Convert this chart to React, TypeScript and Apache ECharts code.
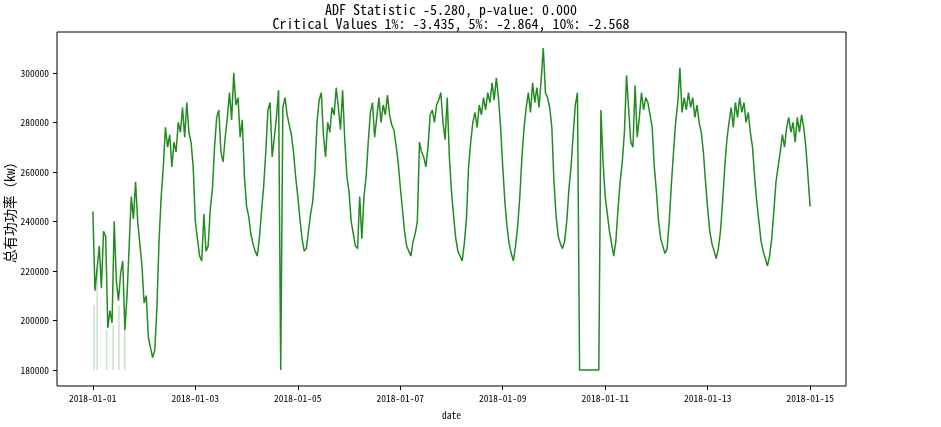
import React, { useEffect, useRef } from "react";
import * as echarts from "echarts";

// ---- data (hourly readings, kW) ----
const START = Date.UTC(2018, 0, 1);
const HOUR = 3600 * 1000;
const DAY = 24 * HOUR;

const jan01 = [244000, 212000, 221000, 230000, 213000, 236000, 234000, 197000, 204000, 199000, 240000, 216000, 208000, 219000, 224000, 196000, 210000, 230000, 250000, 241000, 256000, 240000, 231000, 222000];
const jan02 = [207000, 210000, 193000, 189000, 185000, 188000, 205000, 232000, 250000, 262000, 278000, 270000, 275000, 262000, 272000, 268000, 280000, 276000, 286000, 274000, 288000, 276000, 272000, 262000];
const jan03 = [240000, 233000, 226000, 224000, 243000, 228000, 230000, 245000, 253000, 270000, 282000, 285000, 268000, 264000, 274000, 282000, 292000, 281000, 300000, 287000, 290000, 274000, 281000, 258000];
const jan04 = [246000, 242000, 235000, 231000, 228000, 226000, 233000, 244000, 254000, 268000, 285000, 288000, 266000, 274000, 282000, 293000, 180000, 286000, 290000, 283000, 279000, 275000, 268000, 258000];
const jan05 = [250000, 241000, 233000, 228000, 229000, 236000, 243000, 248000, 260000, 280000, 289000, 292000, 275000, 266000, 280000, 276000, 286000, 283000, 294000, 286000, 277000, 293000, 273000, 258000];
const jan06 = [252000, 240000, 235000, 230000, 229000, 250000, 233000, 250000, 258000, 272000, 284000, 288000, 274000, 282000, 290000, 280000, 287000, 283000, 291000, 283000, 279000, 277000, 271000, 264000];
const jan07 = [254000, 245000, 236000, 230000, 228000, 226000, 232000, 235000, 240000, 272000, 268000, 266000, 262000, 270000, 283000, 285000, 280000, 287000, 289000, 292000, 280000, 273000, 290000, 266000];
const jan08 = [252000, 242000, 233000, 228000, 226000, 224000, 231000, 241000, 262000, 272000, 280000, 284000, 278000, 287000, 283000, 290000, 285000, 292000, 288000, 296000, 289000, 298000, 290000, 278000];
const jan09 = [262000, 248000, 238000, 231000, 227000, 224000, 230000, 238000, 250000, 266000, 278000, 286000, 292000, 284000, 296000, 288000, 294000, 286000, 297000, 310000, 292000, 290000, 286000, 278000];
const jan10 = [256000, 242000, 234000, 231000, 229000, 232000, 240000, 253000, 262000, 275000, 287000, 292000, 180000, 180000, 180000, 180000, 180000, 180000, 180000, 180000, 180000, 180000, 285000, 264000];
const jan11 = [250000, 243000, 236000, 231000, 226000, 232000, 245000, 256000, 264000, 276000, 299000, 285000, 272000, 270000, 295000, 274000, 282000, 292000, 285000, 290000, 288000, 283000, 278000, 262000];
const jan12 = [252000, 240000, 233000, 230000, 227000, 229000, 240000, 255000, 268000, 280000, 288000, 302000, 284000, 290000, 285000, 292000, 286000, 290000, 282000, 287000, 280000, 276000, 268000, 256000];
const jan13 = [245000, 236000, 231000, 228000, 225000, 229000, 236000, 248000, 262000, 273000, 280000, 286000, 278000, 288000, 282000, 290000, 284000, 288000, 280000, 284000, 276000, 270000, 258000, 248000];
const jan14 = [240000, 232000, 228000, 225000, 222000, 226000, 233000, 244000, 256000, 262000, 268000, 275000, 270000, 278000, 282000, 276000, 280000, 272000, 282000, 276000, 283000, 278000, 270000, 258000];
const jan15 = [246000];

// brief drop-outs to the floor value on Jan 1 (drawn faint)
const dropoutHours = [0.6, 2.0, 6.4, 9.5, 12.2, 14.9];
const dropoutTops = [206000, 221000, 196000, 198000, 206000, 196000];
const dropoutFloor = 180000;

const xTickDays = [0, 2, 4, 6, 8, 10, 12, 14];
const yTicks = [180000, 200000, 220000, 240000, 260000, 280000, 300000];

const titleLines = [
  "ADF Statistic -5.280, p-value: 0.000",
  "Critical Values 1%: -3.435, 5%: -2.864, 10%: -2.568",
];
const yName = "总有功功率（kw）";
const xName = "date";

const values = [
  ...jan01, ...jan02, ...jan03, ...jan04, ...jan05, ...jan06, ...jan07,
  ...jan08, ...jan09, ...jan10, ...jan11, ...jan12, ...jan13, ...jan14, ...jan15,
];

const FONT = "'Noto Sans Mono CJK SC', 'Noto Sans CJK SC', monospace";
const GREEN = "#228B22";

export default function App() {
  const ref = useRef<HTMLDivElement>(null);
  useEffect(() => {
    const chart = echarts.init(ref.current!, null, { renderer: "svg" });
    const series: any[] = [];
    const lineData = values.map((v, i) => [START + i * HOUR, v]);
    dropoutHours.forEach((h, k) => {
      series.push({
        type: "line",
        data: [
          [START + h * HOUR, dropoutTops[k]],
          [START + h * HOUR, dropoutFloor],
        ],
        showSymbol: false,
        symbol: "none",
        lineStyle: { color: "rgba(34,139,34,0.25)", width: 1.5 },
        silent: true,
        z: 1,
      });
    });
    series.push({
      type: "line",
      data: lineData,
      showSymbol: false,
      symbol: "none",
      lineStyle: { color: GREEN, width: 1.5 },
      z: 2,
    });

    const tMin = START;
    const tMax = START + (values.length - 1) * HOUR;
    const tPad = (tMax - tMin) * 0.05;
    const vMin = Math.min(...values, ...dropoutTops, dropoutFloor);
    const vMax = Math.max(...values);
    const vPad = (vMax - vMin) * 0.05;

    chart.setOption({
      animation: false,
      grid: {
        left: 57,
        right: 95,
        top: 32,
        bottom: 41,
        show: true,
        borderColor: "#000",
        borderWidth: 1,
        containLabel: false,
        outerBoundsMode: "none",
      },
      graphic: titleLines.map((t, i) => ({
        type: "text",
        x: 451,
        y: 9 + i * 14,
        style: {
          text: t,
          font: `14px ${FONT}`,
          lineHeight: 13,
          fill: "#000",
          textAlign: "center",
          textVerticalAlign: "middle",
        },
      })),
      xAxis: {
        type: "value",
        min: tMin - tPad,
        max: tMax + tPad,
        name: xName,
        nameLocation: "middle",
        nameGap: 24,
        nameMoveOverlap: false,
        nameTextStyle: { fontFamily: FONT, fontSize: 9.5, color: "#000" },
        splitLine: { show: false },
        axisLine: { show: false },
        axisTick: {
          show: true,
          inside: false,
          length: 4,
          lineStyle: { color: "#000" },
          customValues: xTickDays.map((d) => START + d * DAY),
        },
        axisLabel: {
          margin: 7,
          fontFamily: FONT,
          fontSize: 9.5,
          color: "#000",
          customValues: xTickDays.map((d) => START + d * DAY),
          formatter: (v: number) => new Date(v).toISOString().slice(0, 10),
        },
      },
      yAxis: {
        type: "value",
        min: vMin - vPad,
        max: vMax + vPad,
        name: yName,
        nameLocation: "middle",
        nameGap: 41,
        nameMoveOverlap: false,
        nameTextStyle: { fontFamily: FONT, fontSize: 13.5, color: "#000" },
        splitLine: { show: false },
        axisLine: { show: false },
        axisTick: {
          show: true,
          inside: false,
          length: 4,
          lineStyle: { color: "#000" },
          customValues: yTicks,
        },
        axisLabel: {
          margin: 8,
          fontFamily: FONT,
          fontSize: 9.5,
          color: "#000",
          customValues: yTicks,
          formatter: (v: number) => String(v),
        },
      },
      series,
    });
    return () => chart.dispose();
  }, []);
  return (
    <div
      ref={ref}
      style={{ position: "fixed", left: 0, top: 0, width: 941, height: 427 }}
    />
  );
}
